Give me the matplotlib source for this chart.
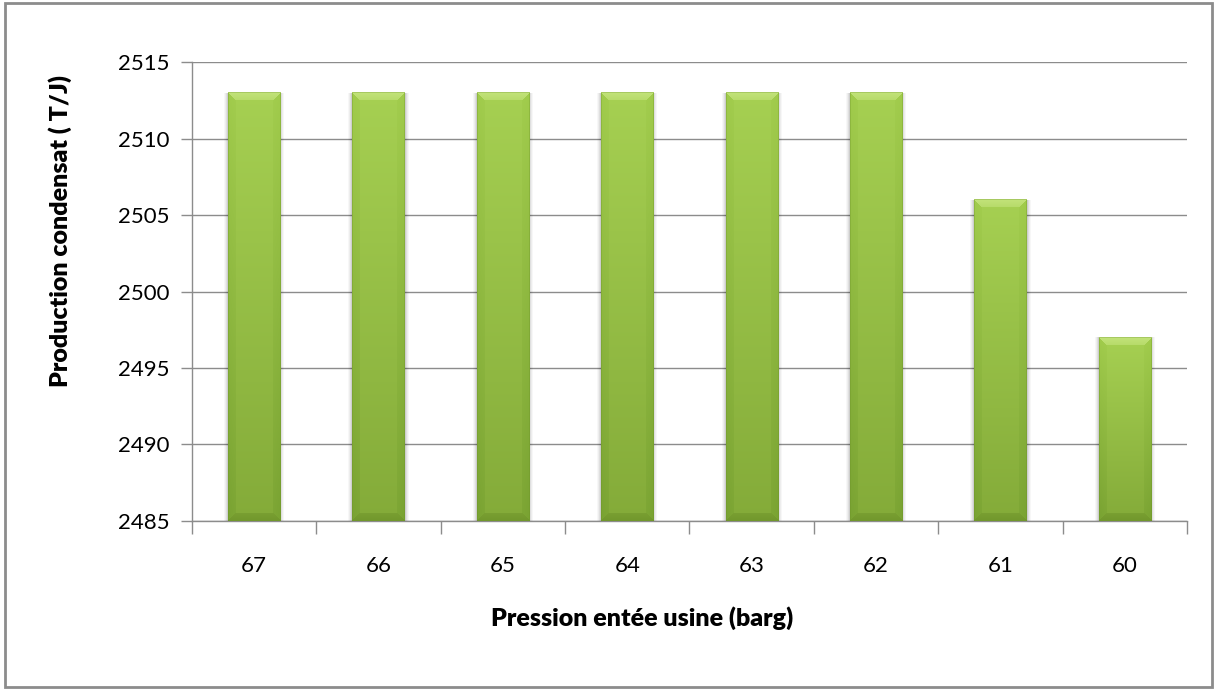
import numpy as np
import matplotlib.pyplot as plt
from matplotlib.patches import Rectangle
from matplotlib.colors import to_rgb

plt.rcParams["font.family"] = ["Lato", "DejaVu Sans"]

pressions = ["67", "66", "65", "64", "63", "62", "61", "60"]
production = [2513, 2513, 2513, 2513, 2513, 2513, 2506, 2497]

Y_MIN, Y_MAX = 2485, 2515
FIG_W, FIG_H = 1217, 690
AX_POS = [0.1578, 0.245, 0.8175, 0.665]
BAR_W = 0.42
BEV = 8  # bevel size, px


def bevel_image(h, w):
    """RGBA shading for one bar: vertical gradient plus bevelled edges."""
    h, w = max(int(round(h)), 2 * BEV + 2), max(int(round(w)), 2 * BEV + 2)
    ii, jj = np.mgrid[0:h, 0:w]
    t = ii / (h - 1)
    top_c = np.array(to_rgb("#a6d052"))
    bot_c = np.array(to_rgb("#84ab39"))
    col = top_c * (1 - t[..., None]) + bot_c * t[..., None]

    d_top, d_bot = ii, h - 1 - ii
    d_side = np.minimum(jj, w - 1 - jj)
    d_min = np.minimum(np.minimum(d_top, d_bot), d_side)
    inside = d_min < BEV
    k = np.where(inside, 0.6 + 0.4 * (1 - d_min / BEV), 0.0)

    top_m = (d_top == d_min) & inside
    bot_m = (d_bot == d_min) & ~top_m & inside
    side_m = inside & ~top_m & ~bot_m
    light = np.array(to_rgb("#c2e27a"))
    dark = np.array(to_rgb("#6a8f27"))
    side_top = np.array(to_rgb("#9fca4a"))
    side_bot = np.array(to_rgb("#76a030"))
    side = side_top * (1 - t[..., None]) + side_bot * t[..., None]

    a = (k * top_m)[..., None]
    col = col * (1 - a) + light * a
    a = (k * bot_m * 0.7)[..., None]
    col = col * (1 - a) + dark * a
    a = (k * side_m * 0.8)[..., None]
    col = col * (1 - a) + side * a
    # darker rim on the outer pixel
    rim = ((d_side < 1) | (d_top < 1))[..., None] * 0.3
    col = col * (1 - rim) + dark * rim
    img = np.ones((h, w, 4))
    img[..., :3] = np.clip(col, 0, 1)
    return img


fig = plt.figure(figsize=(FIG_W / 100, FIG_H / 100), dpi=100)
ax = fig.add_axes(AX_POS)

x = np.arange(len(pressions))
bars = ax.bar(x, production, width=BAR_W, color="#9cc84b", zorder=2)
ax.set_xlim(-0.5, len(pressions) - 0.5)
ax.set_ylim(Y_MIN, Y_MAX)

ax_w_px = AX_POS[2] * FIG_W
ax_h_px = AX_POS[3] * FIG_H
for b, v in zip(bars, production):
    x0, w = b.get_x(), b.get_width()
    h_px = (v - Y_MIN) / (Y_MAX - Y_MIN) * ax_h_px
    w_px = w / len(pressions) * ax_w_px
    img = bevel_image(h_px, w_px)
    ax.imshow(img, extent=(x0, x0 + w, Y_MIN, v), aspect="auto",
              zorder=3, interpolation="nearest")
    # soft shadow around the bar
    for off, a in [(4, 0.03), (3, 0.04), (2, 0.06), (1, 0.08)]:
        dx = off / ax_w_px * len(pressions)
        ax.add_patch(Rectangle((x0 - dx, Y_MIN), w + 2 * dx, v - Y_MIN,
                               facecolor="black", alpha=a, lw=0, zorder=2.5))
ax.set_xlim(-0.5, len(pressions) - 0.5)
ax.set_ylim(Y_MIN, Y_MAX)

ax.set_yticks(np.arange(Y_MIN, Y_MAX + 1, 5))
ax.yaxis.grid(True, color="#8c8c8c", linewidth=1.0, zorder=0)
ax.set_axisbelow(True)

ax.set_xticks(x)
ax.set_xticklabels(pressions)
ax.set_xticks(np.arange(-0.5, len(pressions)), minor=True)
ax.tick_params(axis="x", which="major", length=0, pad=25, labelsize=16)
ax.tick_params(axis="x", which="minor", length=9, width=1, color="#8c8c8c")
ax.tick_params(axis="y", length=8, width=1, color="#8c8c8c", labelsize=16, pad=8)

for s in ["top", "right"]:
    ax.spines[s].set_visible(False)
for s in ["left", "bottom"]:
    ax.spines[s].set_color("#8c8c8c")
    ax.spines[s].set_linewidth(1.0)

ax.set_xlabel("Pression entée usine (barg)", fontsize=18, fontweight="heavy")
ax.set_ylabel("Production condensat ( T/J)", fontsize=18, fontweight="heavy")
ax.xaxis.set_label_coords(0.452, -0.187)
ax.yaxis.set_label_coords(-0.1206, 0.632)

fig.patches.append(Rectangle((0.004, 0.005), 0.992, 0.99, transform=fig.transFigure,
                             fill=False, edgecolor="#8c8c8c", linewidth=2))

fig.savefig("out.png", dpi=100)
